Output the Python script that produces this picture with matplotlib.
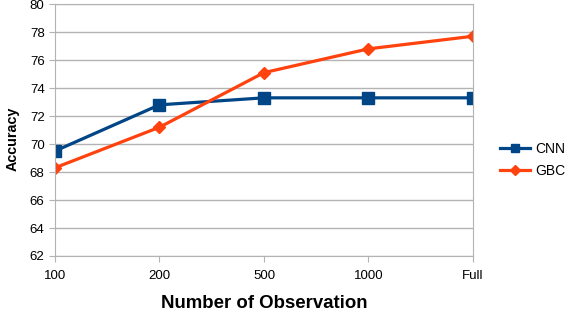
import matplotlib.pyplot as plt

categories = ["100", "200", "500", "1000", "Full"]
cnn = [69.5, 72.8, 73.3, 73.3, 73.3]
gbc = [68.3, 71.2, 75.1, 76.8, 77.7]

plt.rcParams['font.family'] = ['Liberation Sans', 'DejaVu Sans']

fig = plt.figure(figsize=(5.68, 3.12), dpi=100)
ax = fig.add_axes([0.0968, 0.1795, 0.7359, 0.8075])

x = range(len(categories))
ax.plot(x, cnn, color='#004586', lw=2.3, marker='s', markersize=8, label='CNN')
ax.plot(x, gbc, color='#ff420e', lw=2.3, marker='D', markersize=6.5, label='GBC')

ax.set_xlim(0, len(categories) - 1)
ax.set_ylim(62, 80)
ax.set_yticks(range(62, 81, 2))
ax.set_xticks(list(x))
ax.set_xticklabels(categories)
ax.yaxis.grid(True, color='#b3b3b3', lw=1)
ax.set_axisbelow(True)
for s in ax.spines.values():
    s.set_color('#b3b3b3')
ax.tick_params(colors='#b3b3b3', labelcolor='black', labelsize=9.5, length=4)
ax.tick_params(axis='x', pad=6)

ax.set_xlabel("Number of Observation", fontsize=13.4, fontweight='bold', labelpad=9.5)
ax.set_ylabel("Accuracy", fontsize=10.4, fontweight='bold')
ax.yaxis.set_label_coords(-0.085, 0.464)

fig.legend(loc='center left', bbox_to_anchor=(0.880, 0.487), frameon=False,
           fontsize=10, handlelength=2.2, handletextpad=0.35, labelspacing=0.6,
           borderpad=0, borderaxespad=0, markerscale=0.75)

fig.savefig('out.png', dpi=100)
